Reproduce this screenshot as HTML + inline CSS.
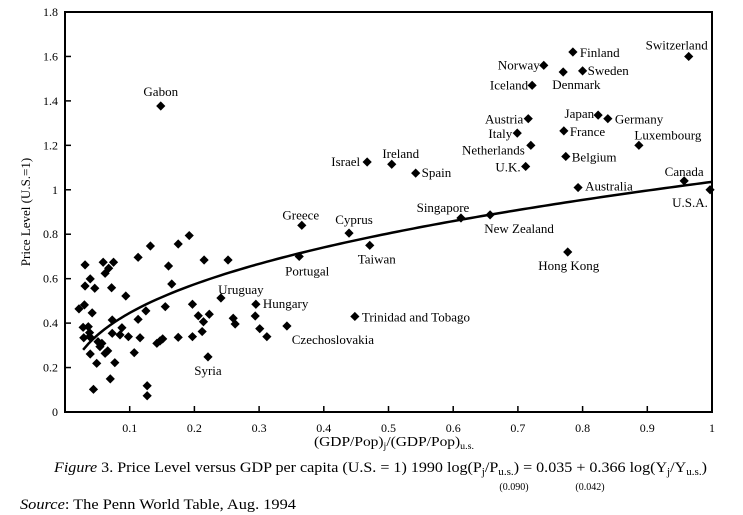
<!DOCTYPE html>
<html><head><meta charset="utf-8"><style>
html,body{margin:0;padding:0;background:#fff;}
svg{display:block;font-family:"Liberation Serif",serif;}
</style></head><body>
<svg id="chart" width="743" height="515" viewBox="0 0 743 515" xmlns="http://www.w3.org/2000/svg">
<rect x="65" y="12" width="647" height="400" fill="none" stroke="#000" stroke-width="2"/>
<g id="ticks"></g>
<g id="curve"></g>
<g id="points"></g>
<g id="labels"></g>
<text x="30" y="212" transform="rotate(-90 30 212)" text-anchor="middle" font-size="13">Price Level (U.S.=1)</text>
<text x="314" y="446" font-size="14" textLength="160" lengthAdjust="spacingAndGlyphs">(GDP/Pop)<tspan font-size="9" dy="3">j</tspan><tspan dy="-3">/(GDP/Pop)</tspan><tspan font-size="9" dy="3">u.s.</tspan></text>
<text x="54" y="472" font-size="14.5" textLength="653" lengthAdjust="spacingAndGlyphs"><tspan font-style="italic">Figure</tspan> 3.  Price Level versus GDP per capita (U.S. = 1) 1990 log(P<tspan font-size="10" dy="3">j</tspan><tspan dy="-3">/P</tspan><tspan font-size="10" dy="3">u.s.</tspan><tspan dy="-3">) = 0.035 + 0.366 log(Y</tspan><tspan font-size="10" dy="3">j</tspan><tspan dy="-3">/Y</tspan><tspan font-size="10" dy="3">u.s.</tspan><tspan dy="-3">)</tspan></text>
<text x="514" y="490" text-anchor="middle" font-size="10">(0.090)</text>
<text x="590" y="490" text-anchor="middle" font-size="10">(0.042)</text>
<text x="20" y="509" font-size="14.5" textLength="276" lengthAdjust="spacingAndGlyphs"><tspan font-style="italic">Source</tspan>: The Penn World Table, Aug. 1994</text>
</svg>
<script>
const xTicks=[0.1,0.2,0.3,0.4,0.5,0.6,0.7,0.8,0.9,1];
const xTickLabels=["0.1","0.2","0.3","0.4","0.5","0.6","0.7","0.8","0.9","1"];
const yTicks=[0,0.2,0.4,0.6,0.8,1,1.2,1.4,1.6,1.8];
const yTickLabels=["0","0.2","0.4","0.6","0.8","1","1.2","1.4","1.6","1.8"];
const intercept=0.035;
const slope=0.366;
const fitRange=[0.028,1];
const labeledNames=["Switzerland","Finland","Norway","Sweden","Denmark","Iceland","Japan","Germany","Austria","Italy","France","Luxembourg","Netherlands","Belgium","U.K.","Australia","Canada","U.S.A.","Israel","Ireland","Spain","Singapore","New Zealand","Hong Kong","Greece","Cyprus","Taiwan","Portugal","Gabon","Trinidad and Tobago","Hungary","Uruguay","Czechoslovakia","Syria"];
const labeledX=[0.964,0.785,0.740,0.800,0.770,0.722,0.824,0.839,0.716,0.699,0.771,0.887,0.720,0.774,0.712,0.793,0.957,0.997,0.467,0.505,0.542,0.612,0.657,0.777,0.366,0.439,0.471,0.362,0.148,0.448,0.295,0.241,0.343,0.221];
const labeledY=[1.60,1.62,1.56,1.535,1.53,1.47,1.336,1.32,1.32,1.255,1.265,1.20,1.20,1.15,1.105,1.01,1.04,1.00,1.125,1.115,1.075,0.873,0.887,0.72,0.84,0.805,0.75,0.70,1.377,0.43,0.485,0.513,0.387,0.248];
const otherX=[0.0216,0.031,0.031,0.030,0.028,0.029,0.039,0.036,0.038,0.042,0.038,0.039,0.046,0.049,0.044,0.059,0.062,0.0675,0.075,0.072,0.073,0.073,0.066,0.070,0.062,0.077,0.054,0.051,0.057,0.088,0.085,0.094,0.098,0.107,0.113,0.113,0.116,0.125,0.127,0.127,0.132,0.155,0.160,0.165,0.175,0.175,0.192,0.197,0.197,0.206,0.212,0.214,0.215,0.223,0.142,0.147,0.151,0.252,0.260,0.263,0.294,0.301,0.312];
const otherY=[0.464,0.662,0.567,0.482,0.381,0.334,0.599,0.384,0.357,0.446,0.339,0.261,0.557,0.219,0.102,0.674,0.624,0.647,0.674,0.559,0.414,0.354,0.275,0.149,0.264,0.222,0.294,0.316,0.309,0.379,0.347,0.522,0.339,0.267,0.696,0.417,0.334,0.455,0.118,0.073,0.747,0.474,0.657,0.576,0.756,0.336,0.794,0.485,0.339,0.433,0.362,0.406,0.684,0.440,0.309,0.320,0.329,0.684,0.422,0.396,0.432,0.375,0.339];
// label layout offsets (pixels) and anchors
const labelLayout=[[19,-7,"end"],[7,5,"start"],[-4,4,"end"],[5,4,"start"],[-11,17,"start"],[-4,4,"end"],[-4,3,"end"],[7,5,"start"],[-5,5,"end"],[-5,5,"end"],[6,5,"start"],[29,-6,"middle"],[-6,9,"end"],[6,5,"start"],[-5,5,"end"],[7,3,"start"],[0,-5,"middle"],[-20,17,"middle"],[-7,4,"end"],[9,-6,"middle"],[6,4,"start"],[-18,-6,"middle"],[29,18,"middle"],[1,18,"middle"],[-1,-6,"middle"],[5,-9,"middle"],[7,18,"middle"],[8,19,"middle"],[0,-10,"middle"],[7,5,"start"],[7,4,"start"],[20,-4,"middle"],[46,18,"middle"],[0,18,"middle"]];

const NS="http://www.w3.org/2000/svg";
const X0=65,X1=712,Y0=412,Y1=12;
function sx(v){return X0+v*(X1-X0);}
function sy(v){return Y0-v/1.8*(Y0-Y1);}
function mk(tag,attrs,parent){const e=document.createElementNS(NS,tag);for(const k in attrs)e.setAttribute(k,attrs[k]);parent.appendChild(e);return e;}

const gT=document.getElementById('ticks');
xTicks.forEach((v,i)=>{
  const l=mk('line',{x1:sx(v),x2:sx(v),y1:Y0,y2:Y0-6,stroke:'#000','stroke-width':1.5},gT);
  
  
  const t=mk('text',{x:sx(v),y:432,'text-anchor':'middle','font-size':12},gT);
  t.textContent=xTickLabels[i];
  
  
});
yTicks.forEach((v,i)=>{
  const l=mk('line',{x1:X0,x2:X0+6,y1:sy(v),y2:sy(v),stroke:'#000','stroke-width':1.5},gT);
  
  
  const t=mk('text',{x:58,y:sy(v)+4,'text-anchor':'end','font-size':12},gT);
  t.textContent=yTickLabels[i];
  
  
});

let d="";
for(let k=0;k<=120;k++){
  const xv=fitRange[0]+(fitRange[1]-fitRange[0])*k/120;
  const yv=Math.exp(intercept+slope*Math.log(xv));
  d+=(k?"L":"M")+sx(xv).toFixed(2)+","+sy(yv).toFixed(2);
}
const fit=mk('path',{d:d,fill:'none',stroke:'#000','stroke-width':2.5},document.getElementById('curve'));



const gP=document.getElementById('points');
function diamond(xv,yv){
  const cx=sx(xv),cy=sy(yv),r=4.6;
  return mk('polygon',{points:`${cx},${cy-r} ${cx+r},${cy} ${cx},${cy+r} ${cx-r},${cy}`,fill:'#000'},gP);
}
otherX.forEach((xv,i)=>{
  const p=diamond(xv,otherY[i]);
  
  
});
const gL=document.getElementById('labels');
labeledNames.forEach((n,i)=>{
  const p=diamond(labeledX[i],labeledY[i]);
  
  
  const lo=labelLayout[i];
  const t=mk('text',{x:sx(labeledX[i])+lo[0],y:sy(labeledY[i])+lo[1],'text-anchor':lo[2],'font-size':13},gL);
  t.textContent=n;
  
  
});
</script>
</body></html>
